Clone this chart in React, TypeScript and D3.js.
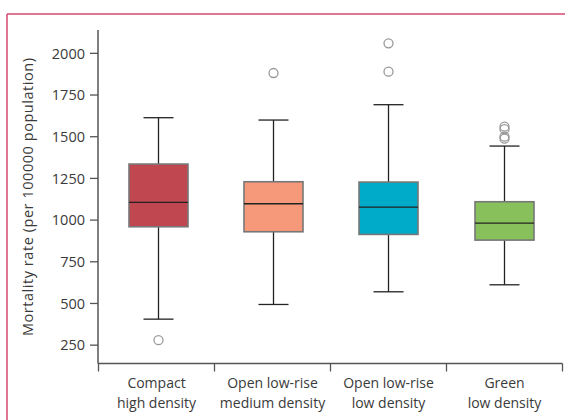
import React from "react";
import * as d3 from "d3";

const categories = ["Compact\nhigh density", "Open low-rise\nmedium density", "Open low-rise\nlow density", "Green\nlow density"];
const whiskerLow = [406, 494, 570, 612];
const q1 = [960, 930, 914, 880];
const median = [1106, 1098, 1078, 982];
const q3 = [1336, 1230, 1228, 1110];
const whiskerHigh = [1614, 1600, 1692, 1444];
const outliers: number[][] = [[280], [1882], [2060, 1890], [1560, 1545, 1500, 1488]];
const colors = ["#c04650", "#f5997a", "#00abc9", "#88c05b"];
const yTicks = [250, 500, 750, 1000, 1250, 1500, 1750, 2000];

const W = 565;
const H = 420;
const FONT = "'Open Sans', 'Noto Sans', sans-serif";

export default function App() {
  const y = d3.scaleLinear().domain([140, 2140]).range([363.5, 30]);
  const x = d3.scaleBand<number>().domain(d3.range(4)).range([98.5, 562.5]).paddingInner(0).paddingOuter(0);
  const boxW = 59;
  const capW = 30;
  return (
    <svg width={W} height={H} style={{ position: "absolute", left: 0, top: 0 }}>
      <rect x={0} y={0} width={W} height={H} fill="#fff" />
      <line x1={7} y1={14} x2={W} y2={14} stroke="#d4496f" strokeWidth={1.5} />
      <line x1={7} y1={14} x2={7} y2={H} stroke="#d4496f" strokeWidth={1.5} />
      {/* y axis */}
      <line x1={98} y1={y(2140)} x2={98} y2={y(140)} stroke="#555" strokeWidth={1.5} />
      {yTicks.map((t) => (
        <g key={t}>
          <line x1={90} x2={98} y1={y(t)} y2={y(t)} stroke="#555" strokeWidth={1.3} />
          <text x={85} y={y(t)} dy="0.36em" textAnchor="end" fontSize={14.5} fontFamily={FONT} fill="#3a3a3a">{t}</text>
        </g>
      ))}
      <text transform={`translate(28,${(y(140) + y(2140)) / 2 + 0}) rotate(-90)`} textAnchor="middle" dy="0.35em" fontSize={14.5} letterSpacing={0.55} fontFamily={FONT} fill="#3a3a3a">
        Mortality rate (per 100000 population)
      </text>
      {/* x axis */}
      <line x1={98} x2={562.5} y1={y(140)} y2={y(140)} stroke="#555" strokeWidth={1.5} />
      {d3.range(5).map((i) => {
        const xx = i < 4 ? (x(i) as number) : (x(3) as number) + x.bandwidth();
        return <line key={i} x1={xx} x2={xx} y1={y(140)} y2={y(140) + 8} stroke="#555" strokeWidth={1.3} />;
      })}
      {categories.map((c, i) => {
        const cx = (x(i) as number) + x.bandwidth() / 2;
        const lines = c.split("\n");
        return (
          <text key={i} x={cx} textAnchor="middle" fontSize={14} fontFamily={FONT} fill="#3a3a3a">
            {lines.map((l, j) => (
              <tspan key={j} x={cx} y={388 + j * 20}>{l}</tspan>
            ))}
          </text>
        );
      })}
      {/* boxes */}
      {categories.map((_, i) => {
        const cx = (x(i) as number) + x.bandwidth() / 2 + (i === 0 ? 2 : i === 1 ? 1 : 0);
        return (
          <g key={i}>
            <line x1={cx} x2={cx} y1={y(whiskerHigh[i])} y2={y(q3[i])} stroke="#222" strokeWidth={1.3} />
            <line x1={cx} x2={cx} y1={y(q1[i])} y2={y(whiskerLow[i])} stroke="#222" strokeWidth={1.3} />
            <line x1={cx - capW / 2} x2={cx + capW / 2} y1={y(whiskerHigh[i])} y2={y(whiskerHigh[i])} stroke="#222" strokeWidth={1.3} />
            <line x1={cx - capW / 2} x2={cx + capW / 2} y1={y(whiskerLow[i])} y2={y(whiskerLow[i])} stroke="#222" strokeWidth={1.3} />
            <rect x={cx - boxW / 2} width={boxW} y={y(q3[i])} height={y(q1[i]) - y(q3[i])} fill={colors[i]} stroke="#777" strokeWidth={1.6} />
            <line x1={cx - boxW / 2} x2={cx + boxW / 2} y1={y(median[i])} y2={y(median[i])} stroke="#222" strokeWidth={1.4} />
            {outliers[i].map((o, k) => (
              <circle key={k} cx={cx} cy={y(o)} r={4.5} fill="none" stroke="#999" strokeWidth={1.3} />
            ))}
          </g>
        );
      })}
    </svg>
  );
}
